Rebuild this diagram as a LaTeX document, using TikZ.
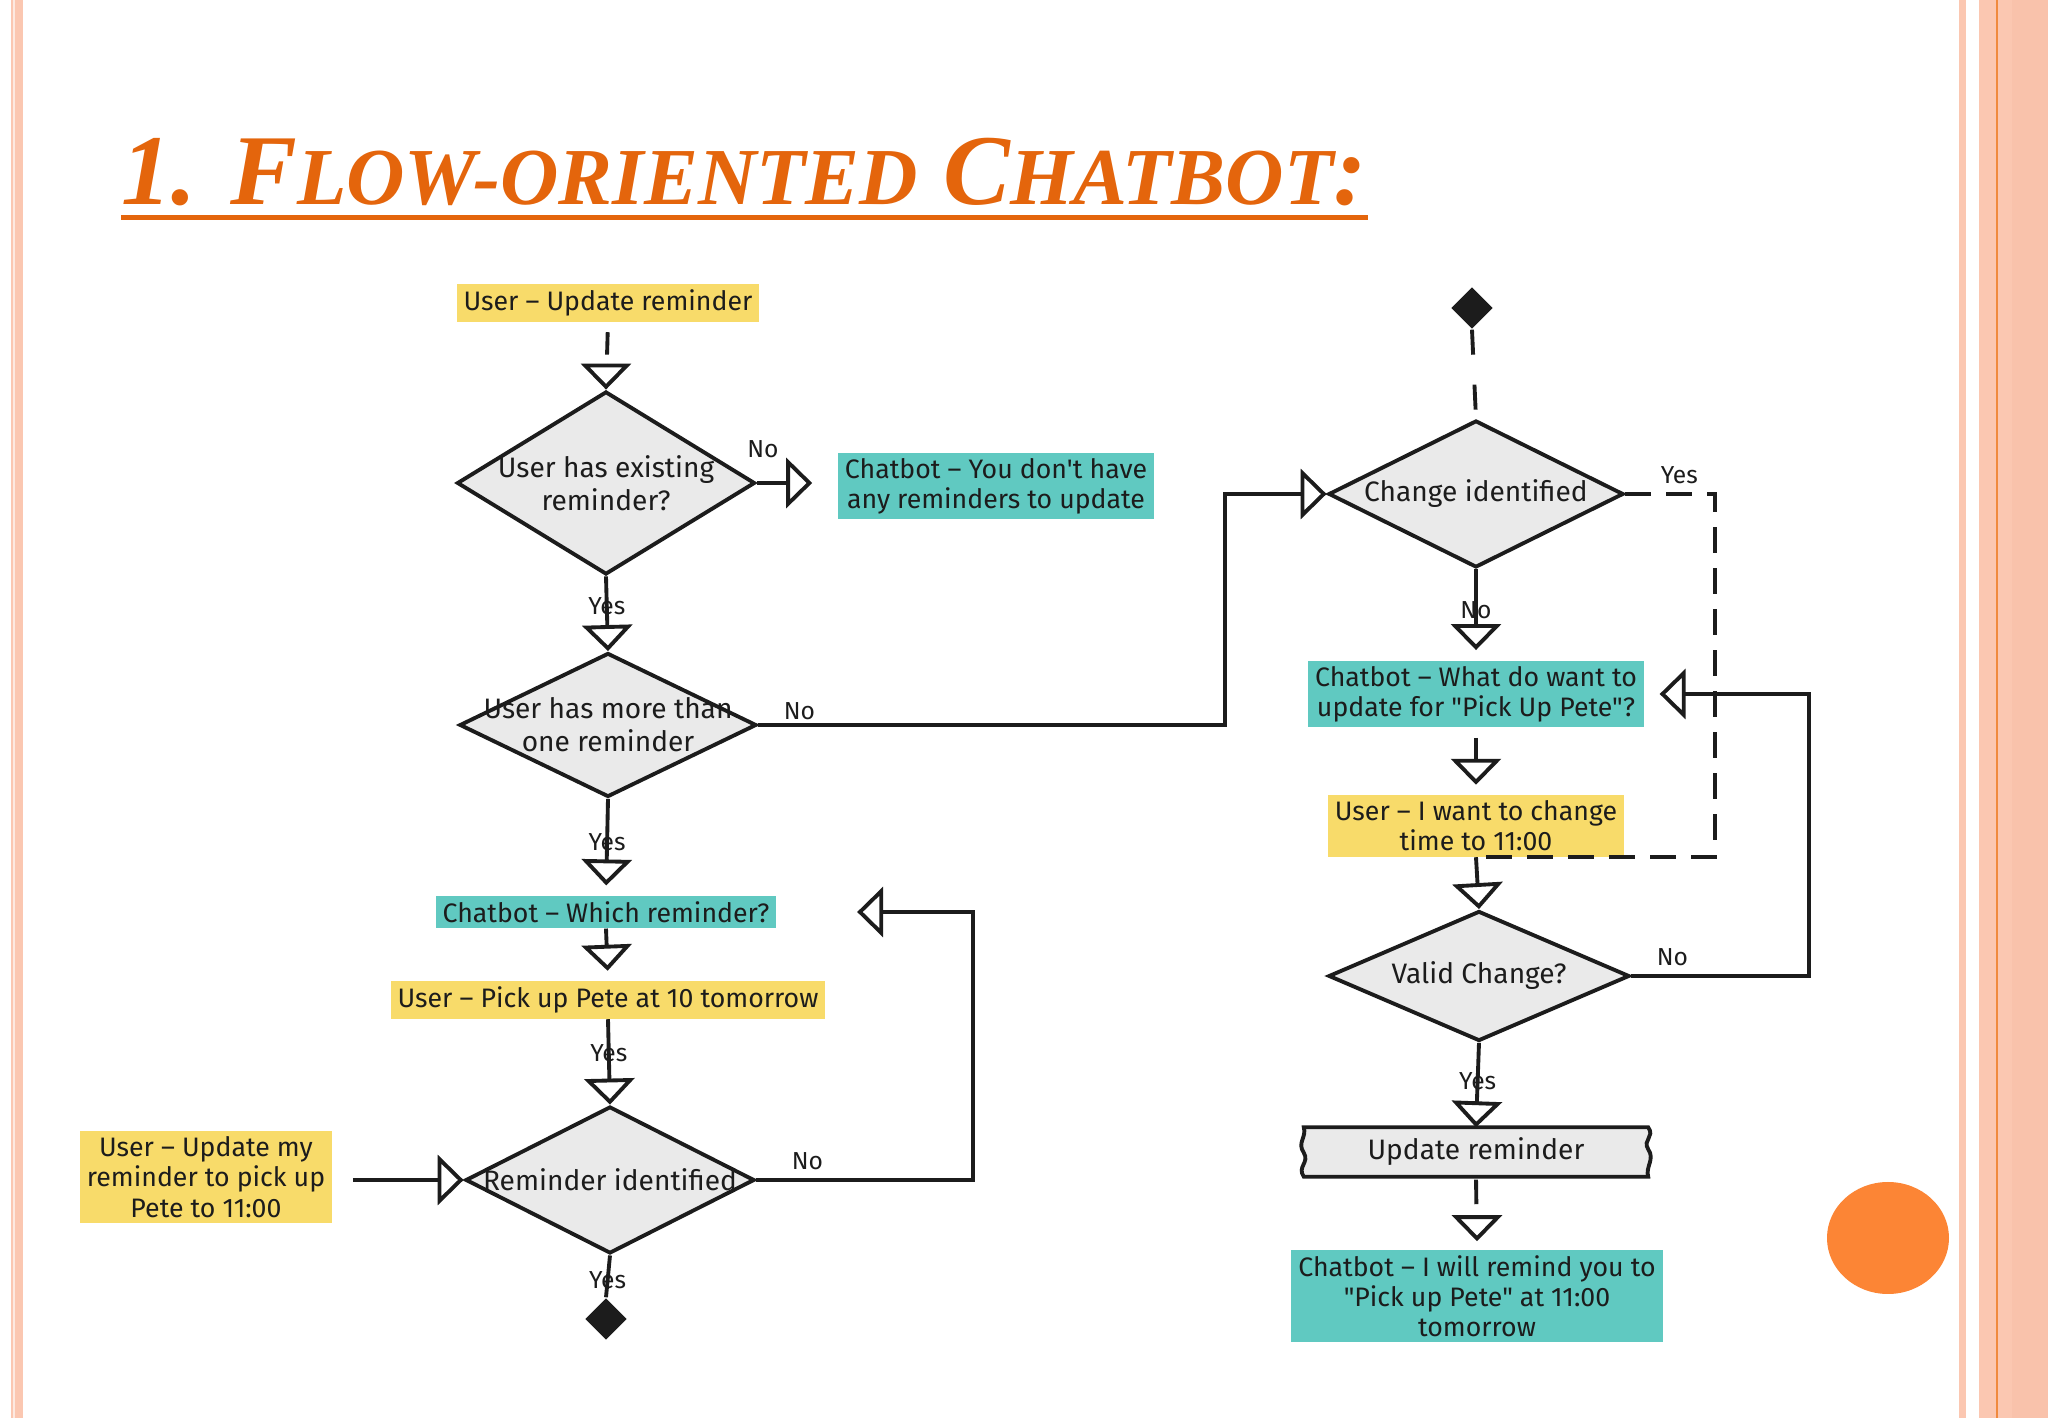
\documentclass[tikz,border=0pt]{standalone}
\usepackage{fontspec}
\usepackage{tikz}
\usetikzlibrary{arrows.meta,positioning,shapes.geometric,backgrounds}
\newfontfamily\handfont{Fira Sans}
\newfontfamily\titlefont{Liberation Serif}
\definecolor{ink}{HTML}{1C1C1C}
\definecolor{titleorange}{HTML}{E4650C}
\definecolor{hlyellow}{HTML}{F8DB6A}
\definecolor{hlcyan}{HTML}{60C9C1}
\definecolor{diagray}{HTML}{EAEAEA}
\definecolor{borderpink}{HTML}{FBC7B1}
\definecolor{borderdeep}{HTML}{F9C2AB}
\definecolor{borderline}{HTML}{F08A3E}
\definecolor{dotorange}{HTML}{FC8535}

\begin{document}
\begin{tikzpicture}[
   font=\handfont\fontsize{7.6}{8.6}\selectfont,
   usr/.style={fill=hlyellow, text=ink, align=center, inner xsep=2pt, inner ysep=1.5pt},
   bot/.style={fill=hlcyan, text=ink, align=center, inner xsep=2pt, inner ysep=1.5pt},
   decision/.style={diamond, draw=ink, fill=diagray, line width=1.1pt, inner sep=0pt},
   qtext/.style={align=center, text=ink, font=\handfont\fontsize{8}{9.4}\selectfont},
   stopdot/.style={diamond, fill=ink, inner sep=0pt, minimum width=0.42cm, minimum height=0.42cm},
   procbox/.style={rectangle, inner sep=0pt, text=ink, minimum width=3.43cm, minimum height=0.48cm,
                   font=\handfont\fontsize{8}{9.4}\selectfont},
   lbl/.style={text=ink, inner sep=1pt, font=\handfont\fontsize{7}{8}\selectfont},
   flow/.style={-{Triangle[open, length=2.6mm, width=5mm]}, line width=1.1pt, color=ink},
   stub/.style={line width=1.1pt, color=ink, shorten <=1mm, shorten >=3.5mm},
   dashline/.style={line width=1.1pt, color=ink, dash pattern=on 2.6mm off 1.5mm},
]
  \useasboundingbox (0,0) rectangle (20.48,-14.18);
  \begin{scope}[on background layer]
    \fill[white] (0,0) rectangle (20.48,-14.18);
  \end{scope}
  \fill[borderpink] (0.11,0) rectangle (0.23,-14.18);
  \fill[white!60!borderpink] (0.13,0) rectangle (0.15,-14.18);
  \fill[borderpink] (19.59,0) rectangle (19.66,-14.18);
  \fill[borderpink] (19.79,0) rectangle (20.12,-14.18);
  \fill[borderdeep] (20.12,0) rectangle (20.48,-14.18);
  \fill[borderline] (19.96,0) rectangle (19.98,-14.18);
  \fill[dotorange] (18.88,-12.38) ellipse (0.61 and 0.56);

  \node[anchor=base west, inner sep=0pt, text=titleorange,
        font=\titlefont\bfseries\itshape\fontsize{28.5}{30}\selectfont] (ttl) at (1.21,-2.05)
        {1. F{\fontsize{23}{24}\selectfont LOW-ORIENTED} C{\fontsize{23}{24}\selectfont HATBOT}:};
  \draw[titleorange, line width=0.5mm] ([yshift=-0.125cm]ttl.base west) -- ([yshift=-0.125cm]ttl.base east);

  \node[usr] (ustart) at (6.08,-3.03) {User – Update reminder};
  \node[decision, minimum width=2.98cm, minimum height=1.83cm,
        label={[qtext]center:User has existing\\reminder?}] (hasrem) at (6.06,-4.83) {};
  \node[bot] (norem) at (9.96,-4.86) {Chatbot – You don't have\\any reminders to update};
  \node[decision, minimum width=2.97cm, minimum height=1.44cm,
        label={[qtext]center:User has more than\\one reminder}] (morerem) at (6.08,-7.25) {};
  \node[bot] (askwhich) at (6.06,-9.12) {Chatbot – Which reminder?};
  \node[usr] (pickup) at (6.08,-10.00) {User – Pick up Pete at 10 tomorrow};
  \node[decision, minimum width=2.89cm, minimum height=1.47cm,
        label={[qtext]center:Reminder identified}] (remid) at (6.10,-11.80) {};
  \node[usr] (umy) at (2.06,-11.77) {User – Update my\\reminder to pick up\\Pete to 11:00};
  \node[stopdot] (endleft) at (6.06,-13.19) {};

  \node[stopdot] (startright) at (14.72,-3.08) {};
  \node[decision, minimum width=2.95cm, minimum height=1.47cm,
        label={[qtext]center:Change identified}] (chgid) at (14.76,-4.94) {};
  \node[bot] (askwhat) at (14.76,-6.94) {Chatbot – What do want to\\update for "Pick Up Pete"?};
  \node[usr] (wantchg) at (14.76,-8.26) {User – I want to change\\time to 11:00};
  \node[decision, minimum width=3.01cm, minimum height=1.30cm,
        label={[qtext]center:Valid Change?}] (validchg) at (14.79,-9.76) {};
  \node[procbox] (updrem) at (14.76,-11.52) {Update reminder};
  \node[bot] (willremind) at (14.77,-12.96) {Chatbot – I will remind you to\\"Pick up Pete" at 11:00\\tomorrow};

  \begin{scope}[on background layer]
    \draw[line width=1.1pt, draw=ink, fill=diagray]
      (updrem.north west) -- (updrem.north east)
      .. controls +(0.07,-0.1) and +(-0.06,0.1) .. ([yshift=-0.22cm]updrem.north east)
      .. controls +(0.07,-0.1) and +(-0.03,0.1) .. (updrem.south east)
      -- (updrem.south west)
      .. controls +(-0.07,0.1) and +(0.06,-0.1) .. ([yshift=0.24cm]updrem.south west)
      .. controls +(-0.07,0.1) and +(0.03,-0.1) .. (updrem.north west) -- cycle;
  \end{scope}

  \coordinate (bendA) at (12.25,-6.0);
  \coordinate (bendB) at (9.73,-10.5);
  \coordinate (bendC) at (17.15,-6.0);
  \coordinate (bendD) at (18.09,-8.0);

  \draw[stub] (ustart.south) -- (hasrem.north);
  \draw[flow] ([yshift=2.6mm]hasrem.north) -- (hasrem.north);
  \draw[flow, shorten >=2.5mm] (hasrem.east) node[lbl, above=2mm, xshift=0.6mm]{No}
        -- (hasrem.east -| norem.west);
  \draw[flow] (hasrem.south) -- node[lbl, pos=0.4]{Yes} (morerem.north);
  \draw[flow] (morerem.east) node[lbl, above right=0mm and 2mm]{No} -| (bendA) |- (chgid.west);
  \draw[flow, shorten >=1mm] (morerem.south) -- node[lbl, pos=0.45]{Yes} (askwhich.north);
  \draw[flow, shorten >=1mm] (askwhich.south) -- (pickup.north);
  \draw[flow] (pickup.south) -- node[lbl, pos=0.4]{Yes} (remid.north);
  \draw[flow, shorten >=8mm] (remid.east) node[lbl, above right=0.5mm and 3mm]{No}
        -| (bendB) |- (askwhich.east);
  \draw[flow, shorten <=2mm] (umy.east |- remid.west) -- (remid.west);
  \draw[line width=1.1pt, color=ink] (remid.south) -- node[lbl, pos=0.6]{Yes} (endleft.north);

  \draw[dashline, dash pattern=on 2.5mm off 3mm] (startright.south) -- (chgid.north);
  \draw[flow, shorten >=1mm] (chgid.south) -- node[lbl, pos=0.45]{No} (askwhat.north);
  \draw[flow, shorten <=1mm, shorten >=1mm] (askwhat.south) -- (wantchg.north);
  \draw[dashline] (chgid.east) node[lbl, above right=0.5mm and 3mm]{Yes} -| (bendC) |- (wantchg.south);
  \draw[flow] (wantchg.south) -- (validchg.north);
  \draw[flow, shorten >=1.5mm] (validchg.east) node[lbl, above right=0.5mm and 2mm]{No}
        -| (bendD) |- (askwhat.east);
  \draw[flow] (validchg.south) -- node[lbl, pos=0.45]{Yes} (updrem.north);
  \draw[stub, shorten <=0.3mm, shorten >=4.5mm] (updrem.south) -- (willremind.north);
  \draw[flow, shorten >=0.8mm] ([yshift=3.4mm]willremind.north) -- (willremind.north);
\end{tikzpicture}
\end{document}
